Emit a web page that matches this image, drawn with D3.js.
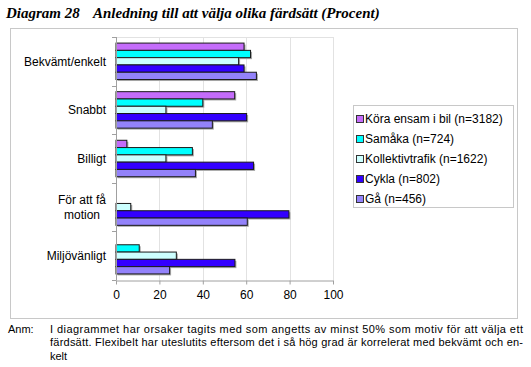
<!DOCTYPE html>
<html>
<head>
<meta charset="utf-8">
<script src="https://cdn.jsdelivr.net/npm/d3@7"></script>
<style>
  body { margin: 0; background: #fff; }
  svg { display: block; }
</style>
</head>
<body>
<div id="chart"></div>
<script>
// categories (\n = line break in the label)
const categories = ["Bekvämt/enkelt", "Snabbt", "Billigt", "För att få\nmotion", "Miljövänligt"];
const seriesNames = ["Köra ensam i bil (n=3182)", "Samåka (n=724)", "Kollektivtrafik (n=1622)", "Cykla (n=802)", "Gå (n=456)"];
const seriesColors = ["#c46cfa", "#00ffff", "#ccffff", "#3300ff", "#9382fa"];
// percent per category, null = not shown (under 50% threshold)
const koraEnsam = [59, 54.7, 5, null, null];
const samaka = [62, 40, 35.2, null, 10.7];
const kollektivtrafik = [56.5, 23, 23, 6.8, 27.8];
const cykla = [59, 60.2, 63.4, 79.7, 54.8];
const ga = [64.7, 44.4, 36.6, 60.5, 24.7];
const xTicks = [0, 20, 40, 60, 80, 100];

const titleNum = "Diagram 28";
const titleText = "Anledning till att välja olika färdsätt (Procent)";
const noteLabel = "Anm:";
const noteLines = [
  "I diagrammet har orsaker tagits med som angetts av minst 50% som motiv för att välja ett",
  "färdsätt. Flexibelt har uteslutits eftersom det i så hög grad är korrelerat med bekvämt och en-",
  "kelt"
];

const values = [koraEnsam, samaka, kollektivtrafik, cykla, ga];

const W = 531, H = 367;
const plot = {left: 116, top: 37, right: 333, bottom: 280};

const svg = d3.select("#chart").append("svg")
  .attr("width", W).attr("height", H)
  .attr("font-family", "Arial, 'Liberation Sans', sans-serif");

// title
const title = svg.append("text")
  .attr("x", 6).attr("y", 18)
  .attr("font-family", "'Liberation Serif', 'Times New Roman', serif")
  .attr("font-weight", "bold").attr("font-style", "italic")
  .attr("font-size", 15);
title.append("tspan").text(titleNum);
title.append("tspan").attr("x", 93).text(titleText);

// chart frame
svg.append("rect")
  .attr("x", 10.5).attr("y", 28.5).attr("width", 507).attr("height", 290)
  .attr("fill", "#fff").attr("stroke", "#c8c8c8");

const x = d3.scaleLinear().domain([0, 100]).range([plot.left, plot.right]);
const y0 = d3.scaleBand().domain(d3.range(categories.length))
  .range([plot.top, plot.bottom]).paddingInner(0.25).paddingOuter(0.125);
const y1 = d3.scaleBand().domain(d3.range(seriesNames.length))
  .range([0, y0.bandwidth()]);
const color = d3.scaleOrdinal().domain(d3.range(seriesNames.length)).range(seriesColors);

// gridlines + plot border
svg.append("g").selectAll("line").data(xTicks.slice(1)).join("line")
  .attr("x1", d => Math.round(x(d)) + 0.5).attr("x2", d => Math.round(x(d)) + 0.5)
  .attr("y1", plot.top).attr("y2", plot.bottom)
  .attr("stroke", "#e2e2e2");
svg.append("line")
  .attr("x1", plot.left).attr("x2", plot.right)
  .attr("y1", plot.top + 0.5).attr("y2", plot.top + 0.5)
  .attr("stroke", "#e2e2e2");

// bars
const groups = svg.append("g").selectAll("g").data(categories).join("g")
  .attr("transform", (d, i) => `translate(0,${y0(i)})`);

const barData = (c, ci) => values.map((s, si) => ({si, v: s[ci]})).filter(d => d.v != null);

groups.selectAll("rect.shadow").data(barData).join("rect")
  .attr("class", "shadow")
  .attr("x", x(0) + 1.5).attr("y", d => y1(d.si) + 1.5)
  .attr("width", d => x(d.v) - x(0)).attr("height", y1.bandwidth())
  .attr("fill", "#a8a8a8");

groups.selectAll("rect.bar").data(barData).join("rect")
  .attr("class", "bar")
  .attr("x", x(0)).attr("y", d => y1(d.si))
  .attr("width", d => x(d.v) - x(0)).attr("height", y1.bandwidth())
  .attr("fill", d => color(d.si))
  .attr("stroke", "#1a1a1a").attr("stroke-width", 1);

// x axis
const xAxis = svg.append("g")
  .attr("transform", `translate(0,${plot.bottom + 0.5})`)
  .call(d3.axisBottom(x).tickValues(xTicks).tickSize(4).tickSizeOuter(0).tickPadding(6));
xAxis.select(".domain").attr("stroke", "#a0a0a0");
xAxis.selectAll(".tick line").attr("stroke", "#a0a0a0");
xAxis.selectAll("text").attr("font-size", 12).attr("fill", "#000")
  .attr("font-family", "Arial, 'Liberation Sans', sans-serif");

// y axis line and ticks at category boundaries
const boundaries = d3.range(categories.length + 1).map(i => plot.top + i * y0.step());
svg.append("line")
  .attr("x1", plot.left + 0.5).attr("x2", plot.left + 0.5)
  .attr("y1", plot.top).attr("y2", plot.bottom + 0.5)
  .attr("stroke", "#a0a0a0");
svg.append("g").selectAll("line").data(boundaries).join("line")
  .attr("x1", plot.left - 4).attr("x2", plot.left)
  .attr("y1", d => Math.round(d) + 0.5).attr("y2", d => Math.round(d) + 0.5)
  .attr("stroke", "#a0a0a0");

// category labels
const labelRight = 106;
categories.forEach((c, i) => {
  const lines = c.split("\n");
  const cy = plot.top + i * y0.step() + y0.step() / 2;
  const t = svg.append("text")
    .attr("font-size", 12).attr("fill", "#000");
  lines.forEach((ln, k) => {
    t.append("tspan").attr("y", cy + (k - (lines.length - 1) / 2) * 15).attr("dy", "0.35em").text(ln);
  });
  if (lines.length === 1) {
    t.attr("text-anchor", "end").selectAll("tspan").attr("x", labelRight);
  } else {
    let maxW = 0;
    t.selectAll("tspan").each(function() { maxW = Math.max(maxW, this.getComputedTextLength()); });
    t.attr("text-anchor", "middle").selectAll("tspan").attr("x", labelRight - maxW / 2);
  }
});

// legend
const legend = svg.append("g");
legend.append("rect")
  .attr("x", 353.5).attr("y", 105.5).attr("width", 160).attr("height", 102)
  .attr("fill", "#fff").attr("stroke", "#c8c8c8");
const items = legend.selectAll("g").data(seriesNames).join("g")
  .attr("transform", (d, i) => `translate(0,${119 + i * 20})`);
items.append("rect")
  .attr("x", 356.5).attr("y", -3.5).attr("width", 7).attr("height", 7)
  .attr("fill", (d, i) => color(i)).attr("stroke", "#333");
items.append("text")
  .attr("x", 365).attr("dy", "0.35em")
  .attr("font-size", 12).text(d => d);

// note
svg.append("text").attr("x", 8).attr("y", 333).attr("font-size", 11).text(noteLabel);
noteLines.forEach((ln, k) => {
  const t = svg.append("text").attr("x", 50).attr("y", 333 + k * 13.3)
    .attr("font-size", 11).text(ln);
  if (k < noteLines.length - 1) t.attr("textLength", 473).attr("lengthAdjust", "spacing");
});
</script>
</body>
</html>
